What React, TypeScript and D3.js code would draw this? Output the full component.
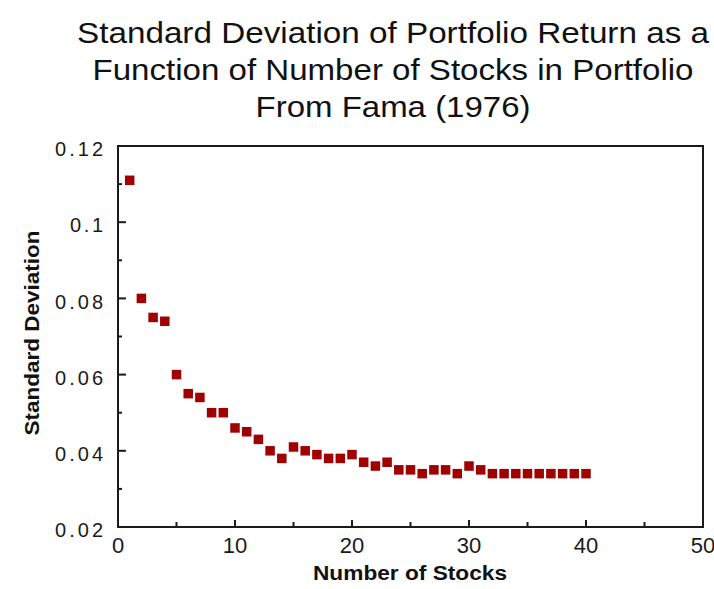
import * as d3 from "d3";

const titleLines = [
  "Standard Deviation of Portfolio Return as a",
  "Function of Number of Stocks in Portfolio",
  "From Fama (1976)",
];
const titleWidths = [632, 601, 275];
const numStocks = [
  1, 2, 3, 4, 5, 6, 7, 8, 9, 10, 11, 12, 13, 14, 15, 16, 17, 18, 19, 20,
  21, 22, 23, 24, 25, 26, 27, 28, 29, 30, 31, 32, 33, 34, 35, 36, 37, 38, 39, 40,
];
const stdDev = [
  0.111, 0.08, 0.075, 0.074, 0.06, 0.055, 0.054, 0.05, 0.05, 0.046,
  0.045, 0.043, 0.04, 0.038, 0.041, 0.04, 0.039, 0.038, 0.038, 0.039,
  0.037, 0.036, 0.037, 0.035, 0.035, 0.034, 0.035, 0.035, 0.034, 0.036,
  0.035, 0.034, 0.034, 0.034, 0.034, 0.034, 0.034, 0.034, 0.034, 0.034,
];
const yTicks = [0.02, 0.04, 0.06, 0.08, 0.1, 0.12];
const xTicks = [0, 10, 20, 30, 40, 50];

const W = 714;
const H = 589;
const plot = { left: 118, right: 703, top: 146, bottom: 527 };

export default function App() {
  const x = d3.scaleLinear().domain([0, 50]).range([plot.left, plot.right]);
  const y = d3.scaleLinear().domain([0.02, 0.12]).range([plot.bottom, plot.top]);
  const yMinor = d3.range(0.03, 0.12, 0.02);
  const xMinor = d3.range(5, 50, 10);
  const pts = d3.zip(numStocks, stdDev) as [number, number][];
  const sq = 9.5;
  const font = "'Liberation Sans', Arial, sans-serif";
  const ink = "#1a1a1a";

  return (
    <svg
      width={W}
      height={H}
      style={{ position: "absolute", left: 0, top: 0, background: "#fff" }}
      fontFamily={font}
    >
      {/* title: glyphs stretched a little to match the wide original lettering */}
      {titleLines.map((t, i) => (
        <text
          key={i}
          x={393}
          y={43 + i * 37}
          textAnchor="middle"
          fontSize={29}
          textLength={titleWidths[i]}
          lengthAdjust="spacingAndGlyphs"
          fill="#111"
        >
          {t}
        </text>
      ))}

      <rect
        x={plot.left}
        y={plot.top}
        width={plot.right - plot.left}
        height={plot.bottom - plot.top}
        fill="none"
        stroke={ink}
        strokeWidth={2}
      />

      {yTicks.map((v) => (
        <g key={v}>
          <line x1={plot.left} x2={plot.left + 8} y1={y(v)} y2={y(v)} stroke={ink} strokeWidth={2} />
          <text
            x={103}
            y={y(v) + 3}
            dy="0.36em"
            textAnchor="end"
            fontSize={20}
            textLength={v === 0.1 ? 33 : 48}
            lengthAdjust="spacing"
            fill={ink}
          >
            {String(+v.toFixed(2))}
          </text>
        </g>
      ))}
      {yMinor.map((v) => (
        <line key={v} x1={plot.left} x2={plot.left + 4} y1={y(v)} y2={y(v)} stroke={ink} strokeWidth={2} />
      ))}

      {xTicks.map((v) => (
        <g key={v}>
          <line x1={x(v)} x2={x(v)} y1={plot.bottom} y2={plot.bottom - 7} stroke={ink} strokeWidth={2} />
          <text x={x(v)} y={553} textAnchor="middle" fontSize={22} fill={ink}>
            {v}
          </text>
        </g>
      ))}
      {xMinor.map((v) => (
        <line key={v} x1={x(v)} x2={x(v)} y1={plot.bottom} y2={plot.bottom - 5} stroke={ink} strokeWidth={2} />
      ))}

      {pts.map(([n, s]) => (
        <rect
          key={n}
          x={x(n) - sq / 2}
          y={y(s) - sq / 2}
          width={sq}
          height={sq}
          fill="#a00000"
        />
      ))}

      <text
        x={410}
        y={580}
        textAnchor="middle"
        fontSize={20}
        fontWeight="bold"
        textLength={194}
        lengthAdjust="spacingAndGlyphs"
        fill="#111"
      >
        Number of Stocks
      </text>
      <text
        transform={`translate(39,333) rotate(-90)`}
        textAnchor="middle"
        fontSize={20}
        fontWeight="bold"
        textLength={205}
        lengthAdjust="spacingAndGlyphs"
        fill="#111"
      >
        Standard Deviation
      </text>
    </svg>
  );
}
